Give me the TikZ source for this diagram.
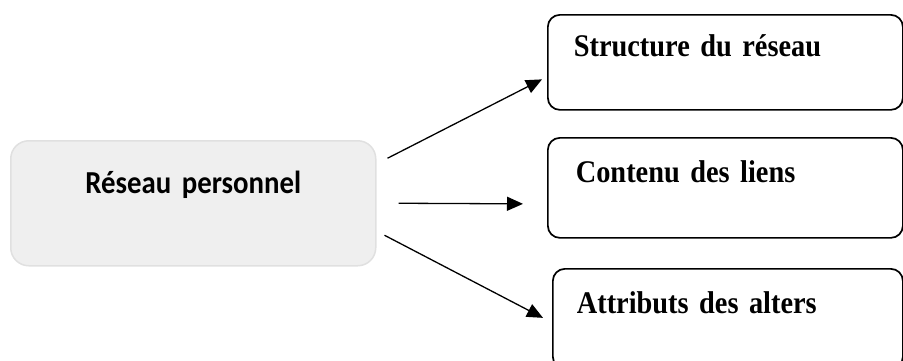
\documentclass[tikz,border=0pt]{standalone}
\usepackage{fontspec}
\setmainfont{Liberation Serif}
\newfontfamily\timesgras[FakeStretch=0.9]{Liberation Serif}
\newfontfamily\calibri[FakeStretch=0.9]{Carlito}
\newcommand\policegauche{\calibri\bfseries\fontsize{32}{36}\selectfont\spaceskip 5pt\relax}
\newcommand\policedroite{\timesgras\bfseries\fontsize{31.5}{36}\selectfont\spaceskip 4pt\relax}
\usetikzlibrary{arrows.meta, calc}
\definecolor{fondgris}{RGB}{239,239,239}
\definecolor{bordgris}{RGB}{224,224,224}
\tikzset{
	source/.style={draw=bordgris, line width=1.5pt, fill=fondgris, rounded corners=18pt,
		inner sep=0pt, text width=365pt, align=center, text height=53pt, text depth=72pt,
		font=\policegauche},
	dimension/.style={draw, line width=1.7pt, rounded corners=12pt, anchor=north west,
		inner ysep=0pt, inner xsep=26pt, text width=303pt, align=left, text height=42pt,
		font=\policedroite},
	fleche/.style={line width=1.3pt, -{Triangle[length=16pt, width=14pt]}},
}
\begin{document}
\begin{tikzpicture}[x=1pt, y=-1pt]
			\useasboundingbox (0,0) rectangle (903,360);
			\clip (0,0) rectangle (903,360);
			% reseau
			\node[source, anchor=north west] (perso) at (10,140) {Réseau personnel};
			% les trois dimensions
			\node[dimension, text depth=53pt] (struct) at (547,14) {Structure du réseau};
			\node[dimension, text height=45pt, text depth=55pt, inner xsep=28pt, text width=299pt] (contenu) at (547,137) {Contenu des liens};
			\node[dimension, text height=45pt, text depth=55pt, inner xsep=24pt, text width=302pt] (attributs) at (552,268) {Attributs des alters};
			\draw[fleche] ($(perso.east)+(11,-45)$) -- ($(struct.west)+(-5,17)$);
			\draw[fleche] ($(perso.east)+(22,0)$) -- ($(contenu.west)+(-24,16)$);
			\draw[fleche] ($(perso.east)+(8,32)$) -- ($(attributs.west)+(-9,-1)$);
		\end{tikzpicture}
\end{document}
